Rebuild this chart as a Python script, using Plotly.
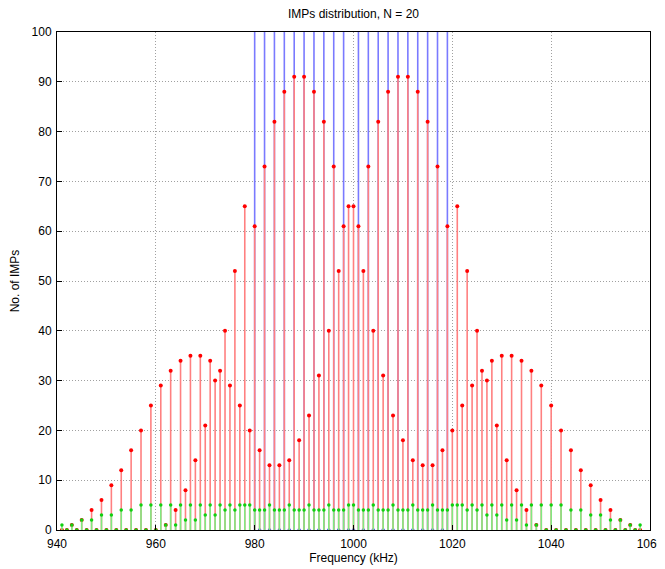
import plotly.graph_objects as go

# ---------------- data ----------------
freqs = list(range(941, 1059))  # kHz

red_counts = [
    0, 0, 1, 0, 2, 0, 4, 0, 6, 0,
    9, 0, 12, 0, 16, 0, 20, 0, 25, 0,
    29, 1, 32, 4, 34, 8, 35, 14, 35, 21,
    34, 30, 32, 40, 29, 52, 25, 65, 20, 61,
    16, 73, 13, 82, 13, 88, 14, 91, 18, 91,
    23, 88, 31, 82, 40, 73, 52, 61, 65,
    65, 61, 52, 73, 40, 82, 31, 88, 23, 91,
    18, 91, 14, 88, 13, 82, 13, 73, 16, 61,
    20, 65, 25, 52, 29, 40, 32, 30, 34, 21,
    35, 14, 35, 8, 34, 4, 32, 1, 29, 0,
    25, 0, 20, 0, 16, 0, 12, 0, 9, 0,
    6, 0, 4, 0, 2, 0, 1, 0, 0,
]

green_counts = [
    1, 0, 1, 0, 2, 0, 2, 0, 3, 0,
    3, 0, 4, 0, 4, 0, 5, 0, 5, 0,
    5, 1, 5, 1, 5, 2, 5, 2, 5, 3,
    5, 3, 5, 4, 5, 4, 5, 5, 5, 4,
    4, 4, 5, 4, 4, 4, 5, 4, 4, 4,
    5, 4, 4, 4, 5, 4, 4, 4, 5,
    5, 4, 4, 4, 5, 4, 4, 4, 5, 4,
    4, 4, 5, 4, 4, 4, 5, 4, 4, 4,
    5, 5, 5, 4, 5, 4, 5, 3, 5, 3,
    5, 2, 5, 2, 5, 1, 5, 1, 5, 0,
    5, 0, 5, 0, 4, 0, 4, 0, 3, 0,
    3, 0, 2, 0, 2, 0, 1, 0, 1,
]

carrier_freqs = list(range(980, 1020))
carrier_vals = [
    120, 0, 120, 0, 120, 0, 120, 0, 120, 0,
    120, 0, 120, 0, 120, 0, 120, 0, 120, 0,
    0, 120, 0, 120, 0, 120, 0, 120, 0, 120,
    0, 120, 0, 120, 0, 120, 0, 120, 0, 120,
]

x_ticks = [940, 960, 980, 1000, 1020, 1040, 1060]
y_ticks = [0, 10, 20, 30, 40, 50, 60, 70, 80, 90, 100]

FONT = "Liberation Sans, Arial, sans-serif"

# the page body has an 8px default margin; size the figure so it ends at the window edge
FIG_W, FIG_H = 657, 561


def stem_xy(xs, ys):
    sx, sy = [], []
    for x, y in zip(xs, ys):
        sx += [x, x, None]
        sy += [0, y, None]
    return sx, sy


fig = go.Figure()

series = [
    (carrier_freqs, carrier_vals, "#7a7aff", "#3030ff", 3.5),
    (freqs, red_counts, "#ff8080", "#ff0000", 4),
    (freqs, green_counts, "#80ea80", "#10d010", 3.5),
]
for xs, ys, lc, mc, ms in series:
    sx, sy = stem_xy(xs, ys)
    fig.add_trace(go.Scatter(x=sx, y=sy, mode="lines",
                             line=dict(color=lc, width=1.6),
                             hoverinfo="skip", showlegend=False))
    fig.add_trace(go.Scatter(x=xs, y=ys, mode="markers",
                             marker=dict(color=mc, size=ms, symbol="circle"),
                             showlegend=False))

axis_common = dict(
    showgrid=True, gridcolor="#a0a0a0", griddash="1px,2px", gridwidth=1,
    showline=True, linecolor="#000000", linewidth=1, mirror=True,
    ticks="inside", ticklen=5, tickcolor="#000000",
    zeroline=False, automargin=False, ticklabeloverflow="allow",
    tickfont=dict(family=FONT, size=12, color="#000"),
)

fig.update_layout(
    width=FIG_W, height=FIG_H,
    margin=dict(l=49, r=15, t=24, b=39),
    paper_bgcolor="white", plot_bgcolor="white",
    font=dict(family=FONT, color="#000"),
    title=dict(text="IMPs distribution, N = 20", x=0.5, xanchor="center",
               xref="paper", yref="container", y=1 - 5.5 / FIG_H, yanchor="middle",
               font=dict(family=FONT, size=12, color="#000")),
    xaxis=dict(range=[940, 1060], tickvals=x_ticks, ticklabelstandoff=3,
               title=dict(text="Frequency (kHz)", standoff=1,
                          font=dict(family=FONT, size=12, color="#000")),
               **axis_common),
    yaxis=dict(range=[0, 100], tickvals=y_ticks, ticklabelstandoff=2,
               title=dict(text="No. of IMPs", standoff=9,
                          font=dict(family=FONT, size=12, color="#000")),
               **axis_common),
)

fig.write_html("out.html")
